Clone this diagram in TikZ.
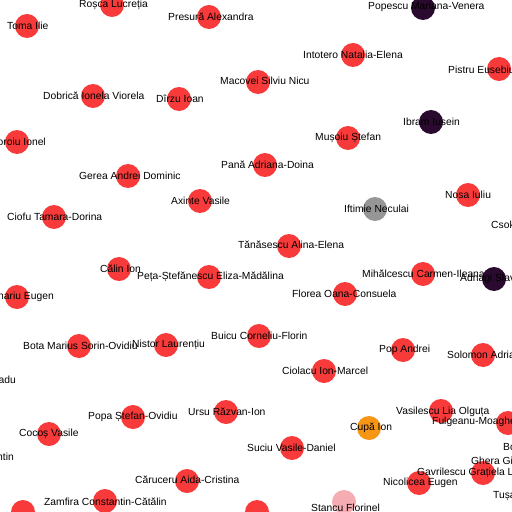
\documentclass[tikz,border=0pt]{standalone}
\usepackage{fontspec}
\setmainfont{Liberation Sans}
\definecolor{cred}{RGB}{248,58,58}
\definecolor{cdark}{RGB}{42,10,46}
\definecolor{cgray}{RGB}{150,150,150}
\definecolor{corange}{RGB}{247,150,20}
\definecolor{cpink}{RGB}{245,172,178}
\tikzset{
  dot/.style={circle,fill=#1,draw=none,minimum size=24bp,inner sep=0},
  dot/.default=cred,
  lbl/.style={anchor=west,inner sep=0,font=\fontsize{10.3bp}{12bp}\selectfont,text=black},
  lble/.style={lbl,anchor=east}
}
\begin{document}
\begin{tikzpicture}[x=1bp,y=-1bp]
\useasboundingbox (0,0) rectangle (512,512);
\clip (0,0) rectangle (512,512);
\fill[white] (0,0) rectangle (512,512);
% circles
\node[dot] (n1) at (112,5) {};
\node[dot] (n2) at (27,26) {};
\node[dot] (n3) at (209,17) {};
\node[dot=cdark] (n4) at (423,8) {};
\node[dot] (n5) at (353,55) {};
\node[dot] (n6) at (258,82) {};
\node[dot] (n7) at (499,69) {};
\node[dot] (n8) at (93,96) {};
\node[dot] (n9) at (179,99) {};
\node[dot=cdark] (n10) at (431,122) {};
\node[dot] (n11) at (17,142) {};
\node[dot] (n12) at (348,138) {};
\node[dot] (n13) at (128,176) {};
\node[dot] (n14) at (265,165) {};
\node[dot] (n15) at (468,195) {};
\node[dot] (n16) at (200,201) {};
\node[dot=cgray] (n17) at (375,209) {};
\node[dot] (n18) at (54,217) {};
\node[dot] (n20) at (289,246) {};
\node[dot] (n21) at (119,269) {};
\node[dot] (n22) at (209,277) {};
\node[dot] (n23) at (423,274) {};
\node[dot=cdark] (n24) at (494,279) {};
\node[dot] (n25) at (17,297) {};
\node[dot] (n26) at (345,294) {};
\node[dot] (n27) at (79,346) {};
\node[dot] (n28) at (166,345) {};
\node[dot] (n29) at (259,336) {};
\node[dot] (n30) at (403,350) {};
\node[dot] (n31) at (483,355) {};
\node[dot] (n32) at (324,371) {};
\node[dot] (n34) at (133,417) {};
\node[dot] (n35) at (226,412) {};
\node[dot] (n36) at (441,411) {};
\node[dot=corange] (n37) at (369,428) {};
\node[dot] (n38) at (508,423) {};
\node[dot] (n39) at (49,434) {};
\node[dot] (n41) at (292,448) {};
\node[dot] (n44) at (483,473) {};
\node[dot] (n46) at (419,483) {};
\node[dot] (n47) at (187,481) {};
\node[dot] (n48) at (105,501) {};
\node[dot=cpink] (n49) at (344,502) {};
\node[dot] (n50) at (23,512) {};
\node[dot] (n51) at (257,512) {};
% labels
\node[lbl] (t1) at (79,5) {Roșca Lucreția};
\node[lbl] (t2) at (7,26) {Toma Ilie};
\node[lbl] (t3) at (168,17) {Presură Alexandra};
\node[lbl] (t4) at (368,7) {Popescu Mariana-Venera};
\node[lbl] (t5) at (303,55) {Intotero Natalia-Elena};
\node[lbl] (t6) at (220,81) {Macovei Silviu Nicu};
\node[lbl] (t7) at (448,70) {Pistru Eusebiu};
\node[lbl] (t8) at (43,96) {Dobrică Ionela Viorela};
\node[lbl] (t9) at (156,99) {Dîrzu Ioan};
\node[lbl] (t10) at (403,122) {Ibram Iusein};
\node[lble] (t11) at (46,142) {Doroiu Ionel};
\node[lbl] (t12) at (315,138) {Mușoiu Ștefan};
\node[lbl] (t13) at (79,176) {Gerea Andrei Dominic};
\node[lbl] (t14) at (221,165) {Pană Adriana-Doina};
\node[lbl] (t15) at (445,195) {Nosa Iuliu};
\node[lbl] (t16) at (171,201) {Axinte Vasile};
\node[lbl] (t17) at (344,209) {Iftimie Neculai};
\node[lbl] (t18) at (7,217) {Ciofu Tamara-Dorina};
\node[lbl] (t19) at (491,225) {Csok};
\node[lbl] (t20) at (238,245) {Tănăsescu Alina-Elena};
\node[lbl] (t21) at (100,269) {Călin Ion};
\node[lbl] (t22) at (137,277) {Peța-Ștefănescu Eliza-Mădălina};
\node[lbl] (t23) at (362,274) {Mihălcescu Carmen-Ileana};
\node[lbl] (t24) at (460,279) {Adnagi Slavoliub};
\node[lble] (t25) at (54,297) {Bejinariu Eugen};
\node[lbl] (t26) at (292,294) {Florea Oana-Consuela};
\node[lbl] (t27) at (23,346) {Bota Marius Sorin-Ovidiu};
\node[lbl] (t28) at (132,345) {Nistor Laurențiu};
\node[lbl] (t29) at (211,336) {Buicu Corneliu-Florin};
\node[lbl] (t30) at (379,350) {Pop Andrei};
\node[lbl] (t31) at (447,355) {Solomon Adrian};
\node[lbl] (t32) at (282,371) {Ciolacu Ion-Marcel};
\node[lble] (t33) at (16,380) {adu};
\node[lbl] (t34) at (88,417) {Popa Ștefan-Ovidiu};
\node[lbl] (t35) at (188,412) {Ursu Răzvan-Ion};
\node[lbl] (t36) at (396,412) {Vasilescu Lia Olguța};
\node[lbl] (t37) at (350,428) {Cupă Ion};
\node[lbl] (t38) at (432,422) {Fulgeanu-Moagher Laurențiu};
\node[lbl] (t39) at (19,434) {Cocoș Vasile};
\node[lble] (t40) at (14,457) {ntin};
\node[lbl] (t41) at (247,448) {Suciu Vasile-Daniel};
\node[lbl] (t42) at (503,447) {Bo};
\node[lbl] (t43) at (471,461) {Ghera Giureci};
\node[lbl] (t44) at (417,473) {Gavrilescu Grațiela Leocadia};
\node[lbl] (t45) at (493,496) {Tușa};
\node[lbl] (t46) at (383,483) {Nicolicea Eugen};
\node[lbl] (t47) at (135,480) {Căruceru Aida-Cristina};
\node[lbl] (t48) at (44,502) {Zamfira Constantin-Cătălin};
\node[lbl] (t49) at (311,508) {Stancu Florinel};
\end{tikzpicture}
\end{document}
